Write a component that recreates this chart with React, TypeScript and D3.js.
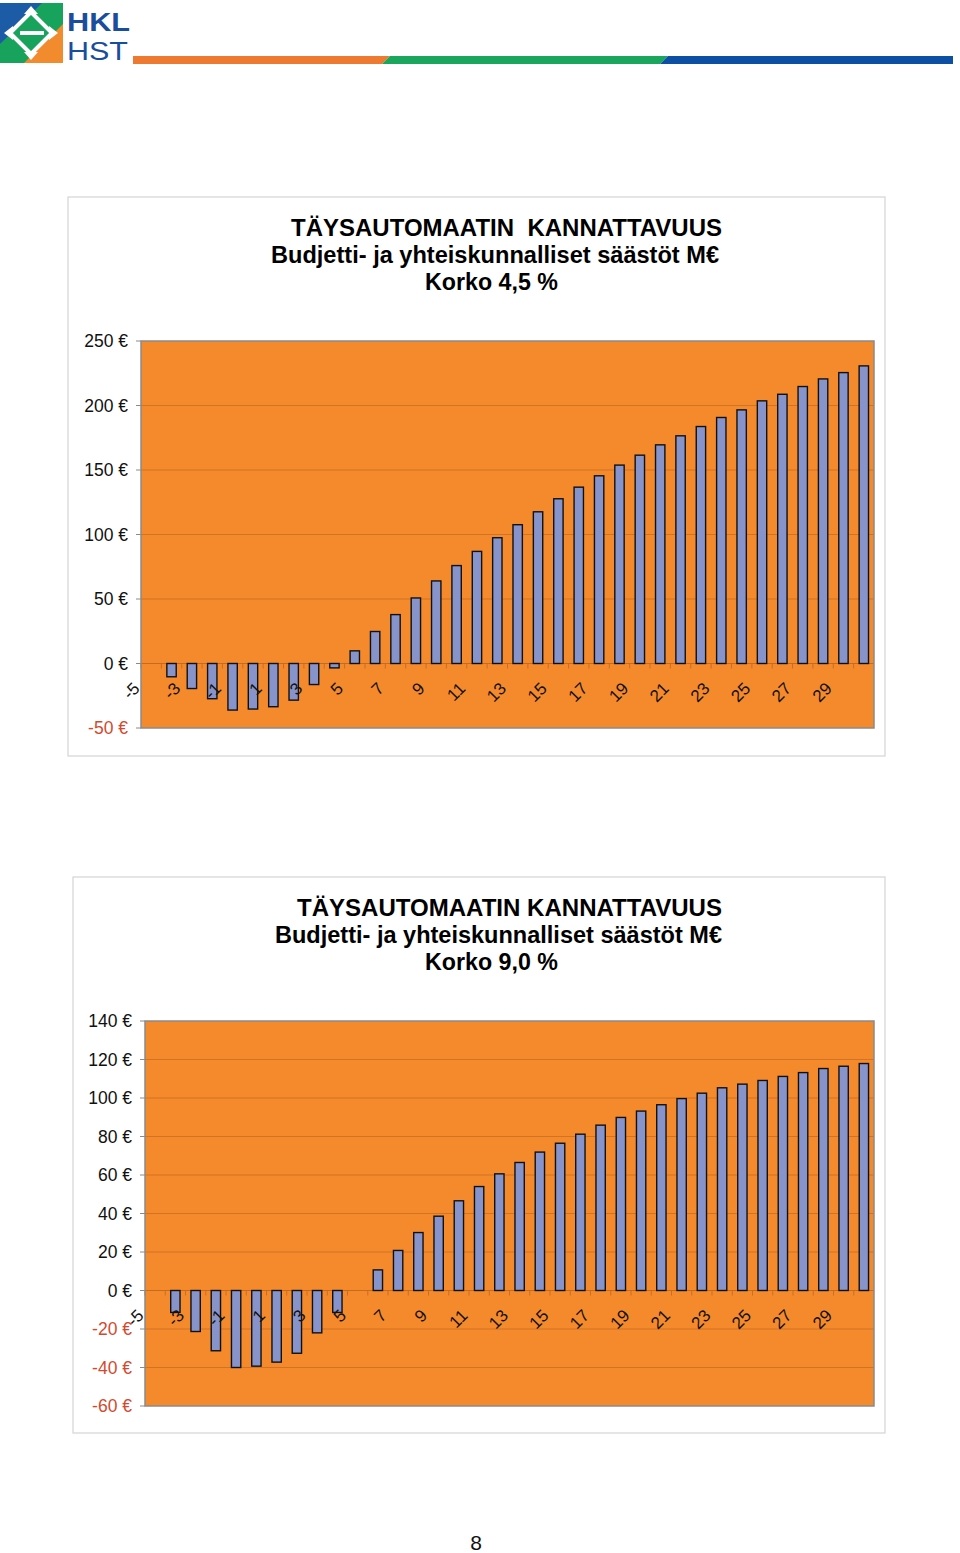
import React from "react";
import * as d3 from "d3";

const years = [-5, -4, -3, -2, -1, 0, 1, 2, 3, 4, 5, 6, 7, 8, 9, 10, 11, 12, 13, 14, 15, 16, 17, 18, 19, 20, 21, 22, 23, 24, 25, 26, 27, 28, 29, 30];
const labelYears = [-5, -3, -1, 1, 3, 5, 7, 9, 11, 13, 15, 17, 19, 21, 23, 25, 27, 29];

const savings45 = [0, -10.3, -19.4, -27.3, -36.1, -35.3, -33.5, -28.4, -16.3, -3.4, 9.8, 24.8, 37.9, 50.8, 64.0, 75.9, 86.9, 97.5, 107.6, 117.6, 127.7, 136.7, 145.5, 153.8, 161.5, 169.5, 176.5, 183.7, 190.7, 196.6, 203.6, 208.7, 214.7, 220.6, 225.5, 230.7];
const savings90 = [0, -11.4, -21.3, -31.3, -40.0, -39.3, -37.2, -32.6, -22.0, -11.4, 0, 10.7, 20.8, 30.1, 38.6, 46.6, 54.0, 60.6, 66.5, 71.9, 76.5, 81.2, 85.9, 89.9, 93.2, 96.5, 99.7, 102.5, 105.3, 107.2, 109.1, 111.2, 113.2, 115.3, 116.5, 117.9];

const ticks45 = [-50, 0, 50, 100, 150, 200, 250];
const ticks90 = [-60, -40, -20, 0, 20, 40, 60, 80, 100, 120, 140];

const titles45 = ["TÄYSAUTOMAATIN  KANNATTAVUUS", "Budjetti- ja yhteiskunnalliset säästöt M€", "Korko 4,5 %"];
const titles90 = ["TÄYSAUTOMAATIN KANNATTAVUUS", "Budjetti- ja yhteiskunnalliset säästöt M€", "Korko 9,0 %"];

const FONT = "'Liberation Sans', Arial, Helvetica, sans-serif";
const ORANGE = "#F58A2C";
const GRID = "#C46B22";
const BAR = "#8794CB";
const NEG = "#D24A2E";

type TitleSpec = { text: string; cx: number; y: number; w: number };

function Chart(props: {
  frame: [number, number, number, number];
  plot: [number, number, number, number];
  values: number[];
  domain: [number, number];
  ticks: number[];
  titles: TitleSpec[];
  labelRight: number;
}) {
  const { frame, plot, values, domain, ticks, titles, labelRight } = props;
  const [px0, py0, px1, py1] = plot;
  const x = d3.scaleBand<number>().domain(years).range([px0, px1]).paddingInner(0.54).paddingOuter(0.27);
  const y = d3.scaleLinear().domain(domain).range([py1, py0]);
  const step = x.step();
  const zero = y(0);
  const bw = x.bandwidth();
  return (
    <g>
      <rect x={frame[0]} y={frame[1]} width={frame[2] - frame[0]} height={frame[3] - frame[1]} fill="#fff" stroke="#d4d4d4" strokeWidth={1.2} />
      {titles.map((t, i) => (
        <text key={i} x={t.cx} y={t.y} textAnchor="middle" fontFamily={FONT} fontWeight="bold" fontSize={23} textLength={t.w} lengthAdjust="spacingAndGlyphs" style={{ whiteSpace: "pre" }} fill="#000">
          {t.text}
        </text>
      ))}
      <rect x={px0} y={py0} width={px1 - px0} height={py1 - py0} fill={ORANGE} />
      {ticks.map((t) => (
        <g key={t}>
          {t !== domain[0] && t !== domain[1] && t !== 0 ? (
            <line x1={px0} x2={px1} y1={y(t)} y2={y(t)} stroke={GRID} strokeWidth={0.9} opacity={0.8} />
          ) : null}
          <line x1={px0 - 5} x2={px0} y1={y(t)} y2={y(t)} stroke="#8a8a8a" strokeWidth={1} />
          <text x={labelRight} y={y(t)} dy="0.35em" textAnchor="end" fontFamily={FONT} fontSize={17.5} fill={t < 0 ? NEG : "#111"}>
            {t} €
          </text>
        </g>
      ))}
      <line x1={px0} x2={px1} y1={zero} y2={zero} stroke={GRID} strokeWidth={1} />
      {years.map((yr, i) => (
        <line key={"tk" + yr} x1={px0 + i * step} x2={px0 + i * step} y1={zero} y2={zero + 5} stroke={GRID} strokeWidth={0.9} />
      ))}
      {years.map((yr, i) => {
        const v = values[i];
        if (v === 0) return null;
        const yy = Math.min(y(v), zero);
        const h = Math.abs(y(v) - zero);
        return <rect key={"b" + yr} x={(x(yr) as number)} y={yy} width={bw} height={h} fill={BAR} stroke="#111" strokeWidth={1.4} />;
      })}
      {labelYears.map((yr) => {
        const cx = (x(yr) as number) + bw / 2;
        const ax = cx - 10.5;
        const ay = zero + 26;
        return (
          <text key={"l" + yr} x={ax} y={ay} textAnchor="end" fontFamily={FONT} fontSize={17} fill="#111" transform={`rotate(-45 ${ax} ${ay})`}>
            {yr}
          </text>
        );
      })}
      <rect x={px0} y={py0} width={px1 - px0} height={py1 - py0} fill="none" stroke="#8a8a8a" strokeWidth={1.5} />
    </g>
  );
}

function Logo() {
  return (
    <g>
      <rect x={0} y={3} width={63} height={60} fill="#17A35B" />
      <polygon points="0,3 42,3 0,44" fill="#1C5CA7" />
      <polygon points="63,24 63,63 24,63" fill="#F28A2E" />
      <g stroke="#fff" strokeWidth={4} fill="none" strokeLinejoin="miter">
        <polyline points="10,33 31,12 52,33" />
        <polyline points="10,33 31,54 52,33" />
        <polyline points="20,33 44,33" />
      </g>
      <g fill="#fff">
        <polygon points="4,33 13,26 13,40" />
        <polygon points="58,33 49,26 49,40" />
        <polygon points="31,6 24,14 38,14" />
        <polygon points="31,60 24,52 38,52" />
      </g>
      <text x={67} y={31} fontFamily={FONT} fontWeight="bold" fontSize={25} fill="#1A4E9C" textLength={63} lengthAdjust="spacingAndGlyphs">HKL</text>
      <text x={67} y={60} fontFamily={FONT} fontSize={25} fill="#1A4E9C" textLength={61} lengthAdjust="spacingAndGlyphs">HST</text>
      <polygon points="133,56 390,56 382,64 133,64" fill="#EE7A31" />
      <polygon points="390,56 668,56 660,64 382,64" fill="#1AA65D" />
      <polygon points="668,56 953,56 953,64 660,64" fill="#0C4FA3" />
    </g>
  );
}

export default function App() {
  return (
    <svg width={960} height={1553} style={{ position: "absolute", left: 0, top: 0, background: "#fff" }}>
      <Logo />
      <Chart
        frame={[68, 197, 885, 756]}
        plot={[141, 341, 874, 728]}
        values={savings45}
        domain={[-50, 250]}
        ticks={ticks45}
        labelRight={128}
        titles={[
          { text: titles45[0], cx: 506.5, y: 236, w: 431 },
          { text: titles45[1], cx: 495, y: 263, w: 448 },
          { text: titles45[2], cx: 491.5, y: 290, w: 133 },
        ]}
      />
      <Chart
        frame={[73, 877, 885, 1433]}
        plot={[145, 1021, 874, 1406]}
        values={savings90}
        domain={[-60, 140]}
        ticks={ticks90}
        labelRight={132}
        titles={[
          { text: titles90[0], cx: 509.5, y: 916, w: 425 },
          { text: titles90[1], cx: 498.5, y: 943, w: 447 },
          { text: titles90[2], cx: 491.5, y: 970, w: 133 },
        ]}
      />
      <text x={476} y={1550} textAnchor="middle" fontFamily={FONT} fontSize={21} fill="#111">8</text>
    </svg>
  );
}
